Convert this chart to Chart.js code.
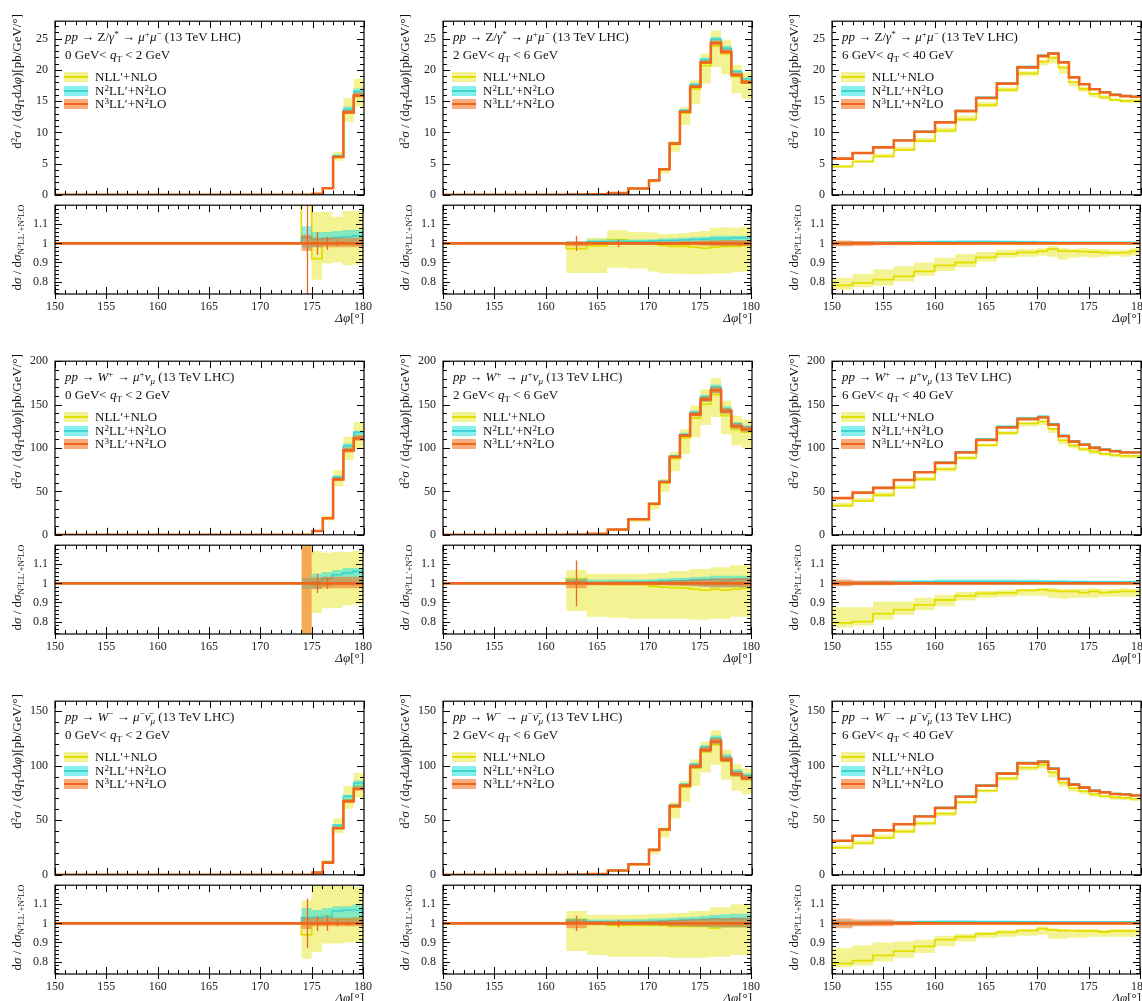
<!DOCTYPE html>
<html><head><meta charset="utf-8">
<script src="https://cdn.jsdelivr.net/npm/chart.js@4.4.1/dist/chart.umd.min.js"></script>
<style>
html,body{margin:0;padding:0;background:#fff;}
body{width:1142px;height:1001px;position:relative;overflow:hidden;font-family:"Liberation Serif","DejaVu Serif",serif;color:#111;}
canvas{position:absolute;}
.t{position:absolute;white-space:nowrap;font-size:13px;line-height:14px;}
.t sup{font-size:70%;vertical-align:0.45em;line-height:0;}
.t sub{font-size:70%;vertical-align:-0.3em;line-height:0;}
.rot{position:absolute;white-space:nowrap;font-size:13px;line-height:14px;transform:rotate(-90deg);transform-origin:0 0;}
.rot sup{font-size:70%;vertical-align:0.45em;line-height:0;}
.rot sub{font-size:70%;vertical-align:-0.3em;line-height:0;}
.sw{position:absolute;width:24px;height:10px;}
.sw div{position:absolute;left:0;right:0;top:4px;height:2px;}
</style></head><body>
<script>
const _ = null;
const binEdges = [150,152,154,156,158,160,162,164,166,168,170,171,172,173,174,175,176,177,178,179,180];
const xTicks = [150,155,160,165,170,175,180];
const xTickLabels = ['150','155','160','165','170','175','180'];
const yTicksRow = [[0,5,10,15,20,25],[0,50,100,150,200],[0,50,100,150]];
const yTickLabelsRow = [['0','5','10','15','20','25'],['0','50','100','150','200'],['0','50','100','150']];
const yMaxRow = [27.8, 200, 159.2];
const yMinorRow = [1, 10, 10];
const ratioTicks = [0.8,0.9,1,1.1];
const ratioTickLabels = ['0.8','0.9','1','1.1'];
const ratioMin = 0.735, ratioMax = 1.2;

const processTitles = [
 '<i>pp</i> → Z/<i>γ</i><sup>*</sup> → <i>μ</i><sup>+</sup><i>μ</i><sup>−</sup> (13 TeV LHC)',
 '<i>pp</i> → <i>W</i><sup>+</sup> → <i>μ</i><sup>+</sup><i>ν</i><sub><i>μ</i></sub> (13 TeV LHC)',
 '<i>pp</i> → <i>W</i><sup>−</sup> → <i>μ</i><sup>−</sup><i>ν̄</i><sub><i>μ</i></sub> (13 TeV LHC)'];
const qtRanges = [
 '0 GeV&lt; <i>q</i><sub>T</sub> &lt; 2 GeV',
 '2 GeV&lt; <i>q</i><sub>T</sub> &lt; 6 GeV',
 '6 GeV&lt; <i>q</i><sub>T</sub> &lt; 40 GeV'];
const seriesNames = ['NLL′+NLO','N<sup>2</sup>LL′+N<sup>2</sup>LO','N<sup>3</sup>LL′+N<sup>2</sup>LO'];
const mainYTitle = 'd<sup>2</sup><i>σ</i> / (d<i>q</i><sub>T</sub>d<i>Δφ</i>)[pb/GeV/°]';
const ratioYTitle = 'd<i>σ</i> / d<i>σ</i><sub>N<sup>3</sup>LL′+N<sup>2</sup>LO</sub>';
const xTitle = '<i>Δφ</i>[°]';

// ---- Z/gamma*, 0-2 GeV ----
const z0_n3    = [_,_,_,_,_,_,_,_,_,_,_,_,_,_, 0.01, 0.17, 1.06, 6.05, 13.2, 15.9];
const z0_nllR  = [_,_,_,_,_,_,_,_,_,_,_,_,_,_, 3.0, 0.92, 1.0, 1.0, 1.0, 0.995];
const z0_n2R   = [_,_,_,_,_,_,_,_,_,_,_,_,_,_, 1.03, 1.02, 1.025, 1.03, 1.035, 1.04];
const z0_nllLo = [_,_,_,_,_,_,_,_,_,_,_,_,_,_, 2.5, 0.81, 0.895, 0.9, 0.885, 0.89];
const z0_nllHi = [_,_,_,_,_,_,_,_,_,_,_,_,_,_, 3.5, 1.165, 1.165, 1.14, 1.17, 1.17];
const z0_n2Lo  = [_,_,_,_,_,_,_,_,_,_,_,_,_,_, 0.975, 0.98, 0.99, 0.99, 0.99, 0.99];
const z0_n2Hi  = [_,_,_,_,_,_,_,_,_,_,_,_,_,_, 1.09, 1.06, 1.06, 1.065, 1.07, 1.07];
const z0_n3Lo  = [_,_,_,_,_,_,_,_,_,_,_,_,_,_, 0.96, 0.98, 0.98, 0.98, 0.98, 0.98];
const z0_n3Hi  = [_,_,_,_,_,_,_,_,_,_,_,_,_,_, 1.045, 1.03, 1.03, 1.03, 1.03, 1.03];
const z0_err   = [0,0,0,0,0,0,0,0,0,0,0,0,0,0, 1.0, 0.06, 0.035, 0.015, 0.008, 0.005];
// ---- Z/gamma*, 2-6 GeV ----
const z2_n3    = [_,_,_,_,_,_, 0.03, 0.1, 0.3, 1.0, 2.3, 4.1, 8.2, 13.3, 17.3, 21.2, 24.3, 22.9, 19.2, 18.05];
const z2_nllR  = [_,_,_,_,_,_, 0.973, 0.987, 1.02, 1.007, 1.0, 0.99, 0.985, 0.985, 0.98, 0.975, 0.98, 0.985, 0.985, 0.99];
const z2_n2R   = [_,_,_,_,_,_, 1.005, 1.008, 1.01, 1.01, 1.012, 1.015, 1.015, 1.018, 1.02, 1.022, 1.025, 1.025, 1.028, 1.03];
const z2_nllLo = [_,_,_,_,_,_, 0.845, 0.845, 0.873, 0.868, 0.853, 0.843, 0.843, 0.84, 0.838, 0.84, 0.843, 0.843, 0.847, 0.853];
const z2_nllHi = [_,_,_,_,_,_, 1.003, 1.03, 1.07, 1.06, 1.057, 1.048, 1.05, 1.055, 1.06, 1.065, 1.082, 1.085, 1.082, 1.087];
const z2_n2Lo  = [_,_,_,_,_,_, 0.995, 0.998, 0.998, 0.998, 0.997, 0.996, 0.995, 0.995, 0.993, 0.992, 0.99, 0.99, 0.99, 0.99];
const z2_n2Hi  = [_,_,_,_,_,_, 1.01, 1.02, 1.02, 1.02, 1.022, 1.025, 1.027, 1.03, 1.032, 1.035, 1.04, 1.04, 1.04, 1.04];
const z2_n3Lo  = [_,_,_,_,_,_, 0.985, 0.992, 0.992, 0.992, 0.992, 0.991, 0.99, 0.99, 0.99, 0.988, 0.986, 0.986, 0.986, 0.986];
const z2_n3Hi  = [_,_,_,_,_,_, 1.01, 1.008, 1.008, 1.008, 1.009, 1.01, 1.01, 1.012, 1.013, 1.015, 1.017, 1.018, 1.018, 1.018];
const z2_err   = [0,0,0,0,0,0, 0.04, 0.008, 0.02, 0.006, 0.006, 0.005, 0.004, 0.004, 0.003, 0.003, 0.003, 0.003, 0.003, 0.003];
// ---- Z/gamma*, 6-40 GeV ----
const z6_n3    = [5.8, 6.7, 7.6, 8.7, 10.1, 11.6, 13.4, 15.5, 17.8, 20.4, 22.2, 22.6, 21.2, 18.8, 17.7, 16.9, 16.4, 16.0, 15.8, 15.7];
const z6_nllR  = [0.78, 0.793, 0.81, 0.827, 0.853, 0.885, 0.9, 0.927, 0.945, 0.953, 0.96, 0.97, 0.96, 0.96, 0.957, 0.955, 0.952, 0.95, 0.952, 0.96];
const z6_n2R   = [1.0, 1.003, 1.005, 1.006, 1.007, 1.008, 1.008, 1.008, 1.008, 1.007, 1.006, 1.005, 1.005, 1.005, 1.005, 1.005, 1.005, 1.005, 1.005, 1.005];
const z6_nllLo = [0.757, 0.77, 0.78, 0.8, 0.83, 0.855, 0.875, 0.905, 0.925, 0.93, 0.935, 0.93, 0.915, 0.925, 0.93, 0.925, 0.93, 0.935, 0.93, 0.935];
const z6_nllHi = [0.82, 0.84, 0.865, 0.88, 0.9, 0.925, 0.945, 0.955, 0.965, 0.97, 0.975, 0.985, 0.975, 0.97, 0.975, 0.97, 0.97, 0.965, 0.965, 0.975];
const z6_n2Lo  = [0.99, 0.995, 0.998, 1.0, 1.0, 1.0, 1.0, 1.0, 1.0, 1.0, 1.0, 1.0, 1.0, 1.0, 1.0, 1.0, 1.0, 1.0, 1.0, 1.0];
const z6_n2Hi  = [1.01, 1.01, 1.012, 1.013, 1.014, 1.015, 1.016, 1.016, 1.015, 1.014, 1.013, 1.012, 1.01, 1.01, 1.01, 1.01, 1.01, 1.01, 1.01, 1.01];
const z6_n3Lo  = [0.985, 0.988, 0.99, 0.99, 0.992, 0.993, 0.994, 0.995, 0.995, 0.995, 0.996, 0.996, 0.996, 0.996, 0.996, 0.996, 0.996, 0.996, 0.996, 0.996];
const z6_n3Hi  = [1.015, 1.012, 1.01, 1.01, 1.008, 1.007, 1.006, 1.005, 1.005, 1.005, 1.004, 1.004, 1.004, 1.004, 1.004, 1.004, 1.004, 1.004, 1.004, 1.004];
// ---- W+, 0-2 GeV ----
const wp0_n3    = [_,_,_,_,_,_,_,_,_,_,_,_,_,_, 0.05, 4.3, 19.1, 63.8, 97.3, 111];
const wp0_nllR  = [_,_,_,_,_,_,_,_,_,_,_,_,_,_, 1.0, 0.99, 0.99, 1.0, 1.0, 1.0];
const wp0_n2R   = [_,_,_,_,_,_,_,_,_,_,_,_,_,_, 1.0, 1.01, 1.025, 1.045, 1.055, 1.063];
const wp0_nllLo = [_,_,_,_,_,_,_,_,_,_,_,_,_,_, 0.3, 0.845, 0.87, 0.87, 0.885, 0.89];
const wp0_nllHi = [_,_,_,_,_,_,_,_,_,_,_,_,_,_, 1.7, 1.17, 1.16, 1.165, 1.165, 1.17];
const wp0_n2Lo  = [_,_,_,_,_,_,_,_,_,_,_,_,_,_, 0.97, 0.97, 0.985, 0.99, 0.99, 0.99];
const wp0_n2Hi  = [_,_,_,_,_,_,_,_,_,_,_,_,_,_, 1.03, 1.05, 1.06, 1.07, 1.08, 1.08];
const wp0_n3Lo  = [_,_,_,_,_,_,_,_,_,_,_,_,_,_, 0.3, 0.97, 0.975, 0.975, 0.975, 0.975];
const wp0_n3Hi  = [_,_,_,_,_,_,_,_,_,_,_,_,_,_, 1.7, 1.03, 1.035, 1.035, 1.035, 1.035];
const wp0_err   = [0,0,0,0,0,0,0,0,0,0,0,0,0,0, 0, 0.05, 0.03, 0.01, 0.008, 0.005];
// ---- W+, 2-6 GeV ----
const wp2_n3    = [_,_,_,_,_,_, 0.2, 1.1, 6.1, 18, 35.7, 60.9, 89.7, 114.2, 138.7, 156, 166.5, 142.3, 125, 121.4];
const wp2_nllR  = [_,_,_,_,_,_, 1.025, 0.998, 0.995, 0.995, 0.985, 0.98, 0.978, 0.977, 0.97, 0.965, 0.97, 0.965, 0.97, 0.975];
const wp2_n2R   = [_,_,_,_,_,_, 1.01, 1.005, 1.006, 1.008, 1.01, 1.012, 1.014, 1.015, 1.017, 1.02, 1.022, 1.015, 1.02, 1.02];
const wp2_nllLo = [_,_,_,_,_,_, 0.855, 0.825, 0.82, 0.815, 0.815, 0.815, 0.815, 0.815, 0.81, 0.81, 0.815, 0.815, 0.825, 0.825];
const wp2_nllHi = [_,_,_,_,_,_, 1.07, 1.05, 1.05, 1.05, 1.055, 1.055, 1.065, 1.065, 1.075, 1.075, 1.085, 1.085, 1.095, 1.095];
const wp2_n2Lo  = [_,_,_,_,_,_, 0.995, 0.995, 0.995, 0.995, 0.993, 0.99, 0.99, 0.988, 0.985, 0.983, 0.98, 0.98, 0.98, 0.98];
const wp2_n2Hi  = [_,_,_,_,_,_, 1.025, 1.02, 1.02, 1.02, 1.022, 1.025, 1.028, 1.03, 1.033, 1.035, 1.04, 1.04, 1.04, 1.04];
const wp2_n3Lo  = [_,_,_,_,_,_, 0.975, 0.99, 0.99, 0.99, 0.99, 0.99, 0.988, 0.987, 0.985, 0.983, 0.98, 0.98, 0.98, 0.98];
const wp2_n3Hi  = [_,_,_,_,_,_, 1.02, 1.01, 1.01, 1.01, 1.012, 1.013, 1.015, 1.017, 1.02, 1.022, 1.025, 1.027, 1.028, 1.03];
const wp2_err   = [0,0,0,0,0,0, 0.12, 0.005, 0.01, 0.004, 0.004, 0.003, 0.003, 0.003, 0.003, 0.003, 0.003, 0.003, 0.003, 0.003];
// ---- W+, 6-40 GeV ----
const wp6_n3    = [42.2, 48.6, 54.1, 63.1, 72.1, 82.9, 94.8, 109.2, 123.6, 133.3, 135.1, 126.8, 113.5, 107.4, 103.8, 100.2, 98.0, 96.2, 94.8, 94.8];
const wp6_nllR  = [0.793, 0.8, 0.842, 0.863, 0.888, 0.913, 0.935, 0.947, 0.95, 0.963, 0.967, 0.962, 0.958, 0.958, 0.952, 0.958, 0.952, 0.955, 0.958, 0.958];
const wp6_n2R   = [1.0, 1.002, 1.004, 1.006, 1.008, 1.009, 1.01, 1.01, 1.01, 1.01, 1.01, 1.009, 1.009, 1.008, 1.008, 1.008, 1.008, 1.008, 1.008, 1.008];
const wp6_nllLo = [0.77, 0.78, 0.81, 0.835, 0.86, 0.88, 0.91, 0.925, 0.93, 0.935, 0.935, 0.925, 0.92, 0.925, 0.925, 0.925, 0.93, 0.93, 0.93, 0.93];
const wp6_nllHi = [0.875, 0.875, 0.905, 0.905, 0.925, 0.94, 0.955, 0.96, 0.965, 0.97, 0.975, 0.975, 0.97, 0.97, 0.97, 0.975, 0.97, 0.97, 0.975, 0.97];
const wp6_n2Lo  = [0.99, 0.993, 0.996, 0.998, 1.0, 1.0, 1.0, 1.0, 1.0, 1.0, 1.0, 1.0, 1.0, 1.0, 1.0, 1.0, 1.0, 1.0, 1.0, 1.0];
const wp6_n2Hi  = [1.012, 1.012, 1.014, 1.016, 1.018, 1.02, 1.02, 1.02, 1.02, 1.019, 1.018, 1.017, 1.016, 1.015, 1.015, 1.014, 1.014, 1.014, 1.014, 1.014];
const wp6_n3Lo  = [0.985, 0.99, 0.99, 0.992, 0.994, 0.995, 0.996, 0.996, 0.996, 0.996, 0.996, 0.996, 0.996, 0.996, 0.996, 0.996, 0.996, 0.996, 0.996, 0.996];
const wp6_n3Hi  = [1.02, 1.015, 1.015, 1.01, 1.007, 1.006, 1.005, 1.005, 1.004, 1.004, 1.004, 1.004, 1.004, 1.004, 1.004, 1.004, 1.004, 1.004, 1.004, 1.004];
// ---- W-, 0-2 GeV ----
const wm0_n3    = [_,_,_,_,_,_,_,_,_,_,_,_,_,_, 0.02, 2.0, 11.2, 42.7, 67.3, 78.7];
const wm0_nllR  = [_,_,_,_,_,_,_,_,_,_,_,_,_,_, 0.94, 1.0, 1.04, 1.02, 1.02, 1.03];
const wm0_n2R   = [_,_,_,_,_,_,_,_,_,_,_,_,_,_, 1.03, 1.03, 1.035, 1.065, 1.07, 1.07];
const wm0_nllLo = [_,_,_,_,_,_,_,_,_,_,_,_,_,_, 0.815, 0.85, 0.895, 0.895, 0.9, 0.9];
const wm0_nllHi = [_,_,_,_,_,_,_,_,_,_,_,_,_,_, 1.12, 1.21, 1.21, 1.21, 1.21, 1.19];
const wm0_n2Lo  = [_,_,_,_,_,_,_,_,_,_,_,_,_,_, 0.99, 0.99, 0.995, 1.0, 1.0, 1.0];
const wm0_n2Hi  = [_,_,_,_,_,_,_,_,_,_,_,_,_,_, 1.08, 1.07, 1.08, 1.09, 1.09, 1.1];
const wm0_n3Lo  = [_,_,_,_,_,_,_,_,_,_,_,_,_,_, 0.97, 0.985, 0.985, 0.985, 0.985, 0.985];
const wm0_n3Hi  = [_,_,_,_,_,_,_,_,_,_,_,_,_,_, 1.03, 1.03, 1.03, 1.03, 1.03, 1.03];
const wm0_err   = [0,0,0,0,0,0,0,0,0,0,0,0,0,0, 0.13, 0.04, 0.04, 0.015, 0.01, 0.006];
// ---- W-, 2-6 GeV ----
const wm2_n3    = [_,_,_,_,_,_, 0.15, 0.8, 4.0, 9.7, 22.9, 41.5, 63.0, 81.6, 99.3, 114.5, 122.2, 105.6, 92.2, 88.7];
const wm2_nllR  = [_,_,_,_,_,_, 1.02, 1.0, 0.99, 0.99, 0.99, 0.99, 0.985, 0.985, 0.985, 0.985, 0.975, 0.985, 0.985, 0.985];
const wm2_n2R   = [_,_,_,_,_,_, 1.01, 1.008, 1.008, 1.01, 1.01, 1.012, 1.015, 1.017, 1.02, 1.022, 1.025, 1.02, 1.025, 1.025];
const wm2_nllLo = [_,_,_,_,_,_, 0.855, 0.835, 0.825, 0.825, 0.825, 0.825, 0.82, 0.82, 0.82, 0.82, 0.825, 0.825, 0.835, 0.835];
const wm2_nllHi = [_,_,_,_,_,_, 1.065, 1.045, 1.045, 1.045, 1.05, 1.05, 1.055, 1.055, 1.065, 1.065, 1.085, 1.085, 1.1, 1.1];
const wm2_n2Lo  = [_,_,_,_,_,_, 0.995, 0.995, 0.995, 0.993, 0.99, 0.99, 0.988, 0.987, 0.985, 0.983, 0.98, 0.98, 0.98, 0.98];
const wm2_n2Hi  = [_,_,_,_,_,_, 1.025, 1.02, 1.02, 1.022, 1.025, 1.027, 1.03, 1.032, 1.035, 1.04, 1.045, 1.048, 1.05, 1.05];
const wm2_n3Lo  = [_,_,_,_,_,_, 0.975, 0.99, 0.99, 0.99, 0.99, 0.988, 0.985, 0.984, 0.983, 0.982, 0.98, 0.98, 0.98, 0.98];
const wm2_n3Hi  = [_,_,_,_,_,_, 1.02, 1.012, 1.012, 1.012, 1.014, 1.015, 1.018, 1.02, 1.022, 1.024, 1.027, 1.028, 1.03, 1.03];
const wm2_err   = [0,0,0,0,0,0, 0.04, 0.006, 0.02, 0.005, 0.004, 0.003, 0.003, 0.003, 0.003, 0.003, 0.003, 0.003, 0.003, 0.003];
// ---- W-, 6-40 GeV ----
const wm6_n3    = [31.2, 35.8, 40.7, 46.4, 53.5, 61.3, 71.6, 81.6, 92.8, 102.2, 103.6, 97.3, 87.9, 82.7, 79.9, 77.0, 75.6, 74.1, 73.6, 72.7];
const wm6_nllR  = [0.79, 0.805, 0.833, 0.855, 0.88, 0.915, 0.93, 0.945, 0.953, 0.962, 0.973, 0.965, 0.962, 0.962, 0.96, 0.96, 0.955, 0.96, 0.96, 0.962];
const wm6_n2R   = [1.0, 1.002, 1.004, 1.006, 1.008, 1.008, 1.008, 1.008, 1.008, 1.008, 1.008, 1.007, 1.007, 1.007, 1.007, 1.007, 1.007, 1.007, 1.007, 1.007];
const wm6_nllLo = [0.77, 0.78, 0.8, 0.82, 0.845, 0.88, 0.905, 0.925, 0.93, 0.935, 0.94, 0.92, 0.92, 0.925, 0.925, 0.93, 0.93, 0.93, 0.93, 0.93];
const wm6_nllHi = [0.87, 0.885, 0.9, 0.905, 0.915, 0.935, 0.945, 0.955, 0.965, 0.97, 0.985, 0.975, 0.97, 0.965, 0.97, 0.97, 0.965, 0.97, 0.97, 0.965];
const wm6_n2Lo  = [0.985, 0.99, 0.995, 0.998, 1.0, 1.0, 1.0, 1.0, 1.0, 1.0, 1.0, 1.0, 1.0, 1.0, 1.0, 1.0, 1.0, 1.0, 1.0, 1.0];
const wm6_n2Hi  = [1.015, 1.013, 1.013, 1.014, 1.015, 1.016, 1.016, 1.015, 1.015, 1.014, 1.013, 1.012, 1.012, 1.012, 1.012, 1.012, 1.012, 1.012, 1.012, 1.012];
const wm6_n3Lo  = [0.975, 0.985, 0.985, 0.99, 0.993, 0.995, 0.996, 0.996, 0.996, 0.996, 0.996, 0.996, 0.996, 0.996, 0.996, 0.996, 0.996, 0.996, 0.996, 0.996];
const wm6_n3Hi  = [1.025, 1.02, 1.02, 1.012, 1.008, 1.006, 1.005, 1.005, 1.004, 1.004, 1.004, 1.004, 1.004, 1.004, 1.004, 1.004, 1.004, 1.004, 1.004, 1.004];

const DATA = {
 z0:{n3:z0_n3,nllR:z0_nllR,n2R:z0_n2R,nllLo:z0_nllLo,nllHi:z0_nllHi,n2Lo:z0_n2Lo,n2Hi:z0_n2Hi,n3Lo:z0_n3Lo,n3Hi:z0_n3Hi,err:z0_err},
 z2:{n3:z2_n3,nllR:z2_nllR,n2R:z2_n2R,nllLo:z2_nllLo,nllHi:z2_nllHi,n2Lo:z2_n2Lo,n2Hi:z2_n2Hi,n3Lo:z2_n3Lo,n3Hi:z2_n3Hi,err:z2_err},
 z6:{n3:z6_n3,nllR:z6_nllR,n2R:z6_n2R,nllLo:z6_nllLo,nllHi:z6_nllHi,n2Lo:z6_n2Lo,n2Hi:z6_n2Hi,n3Lo:z6_n3Lo,n3Hi:z6_n3Hi,err:null},
 wp0:{n3:wp0_n3,nllR:wp0_nllR,n2R:wp0_n2R,nllLo:wp0_nllLo,nllHi:wp0_nllHi,n2Lo:wp0_n2Lo,n2Hi:wp0_n2Hi,n3Lo:wp0_n3Lo,n3Hi:wp0_n3Hi,err:wp0_err},
 wp2:{n3:wp2_n3,nllR:wp2_nllR,n2R:wp2_n2R,nllLo:wp2_nllLo,nllHi:wp2_nllHi,n2Lo:wp2_n2Lo,n2Hi:wp2_n2Hi,n3Lo:wp2_n3Lo,n3Hi:wp2_n3Hi,err:wp2_err},
 wp6:{n3:wp6_n3,nllR:wp6_nllR,n2R:wp6_n2R,nllLo:wp6_nllLo,nllHi:wp6_nllHi,n2Lo:wp6_n2Lo,n2Hi:wp6_n2Hi,n3Lo:wp6_n3Lo,n3Hi:wp6_n3Hi,err:null},
 wm0:{n3:wm0_n3,nllR:wm0_nllR,n2R:wm0_n2R,nllLo:wm0_nllLo,nllHi:wm0_nllHi,n2Lo:wm0_n2Lo,n2Hi:wm0_n2Hi,n3Lo:wm0_n3Lo,n3Hi:wm0_n3Hi,err:wm0_err},
 wm2:{n3:wm2_n3,nllR:wm2_nllR,n2R:wm2_n2R,nllLo:wm2_nllLo,nllHi:wm2_nllHi,n2Lo:wm2_n2Lo,n2Hi:wm2_n2Hi,n3Lo:wm2_n3Lo,n3Hi:wm2_n3Hi,err:wm2_err},
 wm6:{n3:wm6_n3,nllR:wm6_nllR,n2R:wm6_n2R,nllLo:wm6_nllLo,nllHi:wm6_nllHi,n2Lo:wm6_n2Lo,n2Hi:wm6_n2Hi,n3Lo:wm6_n3Lo,n3Hi:wm6_n3Hi,err:null}
};
const grid = [['z0','z2','z6'],['wp0','wp2','wp6'],['wm0','wm2','wm6']];

// ---- layout & style ----
const colLeft = [55, 443, 832];
const rowTop = [17, 357, 697];
const frameW = 309, mainH = 184, ratioH = 93;
const padL = 48, padR = 14, padT = 10, padB = 8, xAxisH = 30;
const COL = {
  nll:'#e2df00', nllBand:'rgba(232,232,40,0.5)', nllSw:'#f2f296',
  n2:'#3cd3d3', n2Band:'rgba(40,225,225,0.55)', n2Sw:'#88efef',
  n3:'#f0661a', n3Band:'rgba(245,110,30,0.55)', n3Sw:'#f9ac7c'
};
const FONT = {family:'"Liberation Serif","DejaVu Serif",serif', size:12};

function stepPts(vals, f) {
  const p = [];
  for (let i = 0; i < binEdges.length - 1; i++) {
    const v = f(i);
    if (v == null) continue;
    p.push({x:binEdges[i], y:v}, {x:binEdges[i+1], y:v});
  }
  return p;
}
function lineDs(pts, color, w) {
  return {data:pts, borderColor:color, borderWidth:w, pointRadius:0, fill:false, tension:0, borderJoinStyle:'miter'};
}
function bandDs(pts, color, target) {
  return {data:pts, borderColor:'rgba(0,0,0,0)', borderWidth:0, pointRadius:0, tension:0,
          backgroundColor:color, fill: target == null ? false : {target:target, above:color, below:color}};
}

const frameTicks = {
  id:'frameTicks',
  afterDatasetsDraw(chart, args, o) {
    const ctx = chart.ctx, a = chart.chartArea, xs = chart.scales.x, ys = chart.scales.y;
    ctx.save();
    if (o.err) {
      ctx.beginPath(); ctx.rect(a.left, a.top, a.right - a.left, a.bottom - a.top); ctx.clip();
      ctx.strokeStyle = COL.n3; ctx.lineWidth = 1.3; ctx.beginPath();
      o.err.forEach((e, i) => {
        if (!e) return;
        const cx = Math.round(xs.getPixelForValue((binEdges[i] + binEdges[i+1]) / 2)) + 0.5;
        ctx.moveTo(cx, ys.getPixelForValue(1 + e)); ctx.lineTo(cx, ys.getPixelForValue(1 - e));
      });
      ctx.stroke();
      ctx.restore(); ctx.save();
    }
    ctx.strokeStyle = '#000'; ctx.lineWidth = 1;
    ctx.beginPath();
    const isMaj = (arr, v) => arr.some(t => Math.abs(t - v) < 1e-7);
    for (let k = Math.ceil(xs.min / o.xMinor - 1e-7); k * o.xMinor <= xs.max + 1e-7; k++) {
      const v = k * o.xMinor, mj = isMaj(o.xMajor, v), len = mj ? 7 : 4;
      const px = Math.round(xs.getPixelForValue(v)) + 0.5;
      ctx.moveTo(px, a.bottom); ctx.lineTo(px, a.bottom - len);
      ctx.moveTo(px, a.top); ctx.lineTo(px, a.top + len);
      if (o.outBottom && mj) { ctx.moveTo(px, a.bottom); ctx.lineTo(px, a.bottom + 5); }
    }
    for (let k = Math.ceil(ys.min / o.yMinor - 1e-7); k * o.yMinor <= ys.max + 1e-7; k++) {
      const v = k * o.yMinor, mj = isMaj(o.yMajor, v), len = mj ? 7 : 4;
      const py = Math.round(ys.getPixelForValue(v)) + 0.5;
      ctx.moveTo(a.left, py); ctx.lineTo(a.left + len, py);
      ctx.moveTo(a.right, py); ctx.lineTo(a.right - len, py);
    }
    ctx.stroke();
    ctx.lineWidth = 1.2;
    ctx.strokeRect(a.left, a.top, a.right - a.left, a.bottom - a.top);
    ctx.restore();
  }
};

function makeChart(canvas, datasets, yMin, yMax, yTicks, yLabels, yMinor, withX, err) {
  return new Chart(canvas.getContext('2d'), {
    type:'line',
    data:{datasets},
    options:{
      responsive:false, animation:false, devicePixelRatio:1,
      layout:{autoPadding:false, padding:{left:0, right:padR, top:padT, bottom: withX ? 0 : padB}},
      plugins:{legend:{display:false}, tooltip:{enabled:false},
        frameTicks:{xMajor:xTicks, xMinor:1, yMajor:yTicks, yMinor:yMinor, outBottom:withX, err:err}},
      scales:{
        x:{type:'linear', min:150, max:180, display:withX,
           afterBuildTicks:s => { s.ticks = xTicks.map(v => ({value:v})); },
           afterFit:s => { s.height = withX ? xAxisH : 0; },
           grid:{display:false, drawTicks:false}, border:{display:false},
           ticks:{autoSkip:false, maxRotation:0, padding:6, color:'#222', font:FONT,
                  callback:(v, i) => xTickLabels[i]}},
        y:{type:'linear', min:yMin, max:yMax,
           afterBuildTicks:s => { s.ticks = yTicks.map(v => ({value:v})); },
           afterFit:s => { s.width = padL; },
           grid:{display:false, drawTicks:false}, border:{display:false},
           ticks:{autoSkip:false, padding:7, color:'#222', font:FONT,
                  callback:(v, i) => yLabels[i]}}
      }
    },
    plugins:[frameTicks]
  });
}

function addDiv(cls, html, left, top, extra) {
  const d = document.createElement('div');
  d.className = cls; d.innerHTML = html;
  d.style.left = left + 'px'; d.style.top = top + 'px';
  if (extra) Object.assign(d.style, extra);
  document.body.appendChild(d);
  return d;
}

grid.forEach((row, r) => row.forEach((key, c) => {
  const d = DATA[key];
  const L = colLeft[c], T = rowTop[r];
  const n3v = i => d.n3[i] == null ? 0 : d.n3[i];
  const rel = (arr) => (i => (d.n3[i] == null || arr[i] == null) ? null : arr[i] * d.n3[i]);
  const relR = (arr) => (i => (d.n3[i] == null || arr[i] == null) ? null : arr[i]);

  // ---- main panel ----
  const cm = document.createElement('canvas');
  cm.width = padL + frameW + padR; cm.height = padT + mainH + padB;
  cm.style.left = (L - padL) + 'px'; cm.style.top = (T - padT) + 'px';
  document.body.appendChild(cm);
  const mainSets = [
    lineDs(stepPts(d.n3, i => n3v(i)), COL.n3, 2.6),
    bandDs(stepPts(d.n3, rel(d.n3Hi)), COL.n3Band, 2),
    bandDs(stepPts(d.n3, rel(d.n3Lo)), COL.n3Band, null),
    lineDs(stepPts(d.n3, i => d.n3[i] == null ? 0 : d.n2R[i] * d.n3[i]), COL.n2, 1.6),
    bandDs(stepPts(d.n3, rel(d.n2Hi)), COL.n2Band, 5),
    bandDs(stepPts(d.n3, rel(d.n2Lo)), COL.n2Band, null),
    lineDs(stepPts(d.n3, i => d.n3[i] == null ? 0 : d.nllR[i] * d.n3[i]), COL.nll, 1.8),
    bandDs(stepPts(d.n3, rel(d.nllHi)), COL.nllBand, 8),
    bandDs(stepPts(d.n3, rel(d.nllLo)), COL.nllBand, null)
  ];
  makeChart(cm, mainSets, 0, yMaxRow[r], yTicksRow[r], yTickLabelsRow[r], yMinorRow[r], false, null);

  // ---- ratio panel ----
  const cr = document.createElement('canvas');
  cr.width = padL + frameW + padR; cr.height = padT + ratioH + xAxisH;
  cr.style.left = (L - padL) + 'px'; cr.style.top = (T + mainH - padT) + 'px';
  document.body.appendChild(cr);
  const ratioSets = [
    lineDs(stepPts(d.n3, i => 1), COL.n3, 2.6),
    bandDs(stepPts(d.n3, relR(d.n3Hi)), COL.n3Band, 2),
    bandDs(stepPts(d.n3, relR(d.n3Lo)), COL.n3Band, null),
    lineDs(stepPts(d.n3, i => d.n3[i] == null ? 1 : d.n2R[i]), COL.n2, 1.6),
    bandDs(stepPts(d.n3, relR(d.n2Hi)), COL.n2Band, 5),
    bandDs(stepPts(d.n3, relR(d.n2Lo)), COL.n2Band, null),
    lineDs(stepPts(d.n3, i => d.n3[i] == null ? 1 : d.nllR[i]), COL.nll, 1.8),
    bandDs(stepPts(d.n3, relR(d.nllHi)), COL.nllBand, 8),
    bandDs(stepPts(d.n3, relR(d.nllLo)), COL.nllBand, null)
  ];
  makeChart(cr, ratioSets, ratioMin, ratioMax, ratioTicks, ratioTickLabels, 0.02, true, d.err);

  // ---- texts ----
  addDiv('t', processTitles[r], L + 10, T + 13);
  addDiv('t', qtRanges[c], L + 10, T + 31);
  const swc = [COL.nllSw, COL.n2Sw, COL.n3Sw], lnc = [COL.nll, COL.n2, COL.n3];
  [60, 74, 87].forEach((dy, k) => {
    const s = document.createElement('div');
    s.className = 'sw'; s.style.left = (L + 9) + 'px'; s.style.top = (T + dy - 5) + 'px';
    s.style.background = swc[k];
    s.innerHTML = '<div style="background:' + lnc[k] + '"></div>';
    document.body.appendChild(s);
    addDiv('t', seriesNames[k], L + 40, T + dy - 7);
  });
  const bw1 = mainH + 20;
  addDiv('rot', mainYTitle, L - 45, T - 3 + bw1, {width: bw1 + 'px', textAlign:'right'});
  const bw2 = ratioH + 30;
  addDiv('rot', ratioYTitle, L - 45, T + mainH + ratioH / 2 + bw2 / 2, {width: bw2 + 'px', textAlign:'center'});
  addDiv('t', xTitle, L + frameW - 60, T + mainH + ratioH + 17, {width:'60px', textAlign:'right'});
}));
</script>
</body></html>
